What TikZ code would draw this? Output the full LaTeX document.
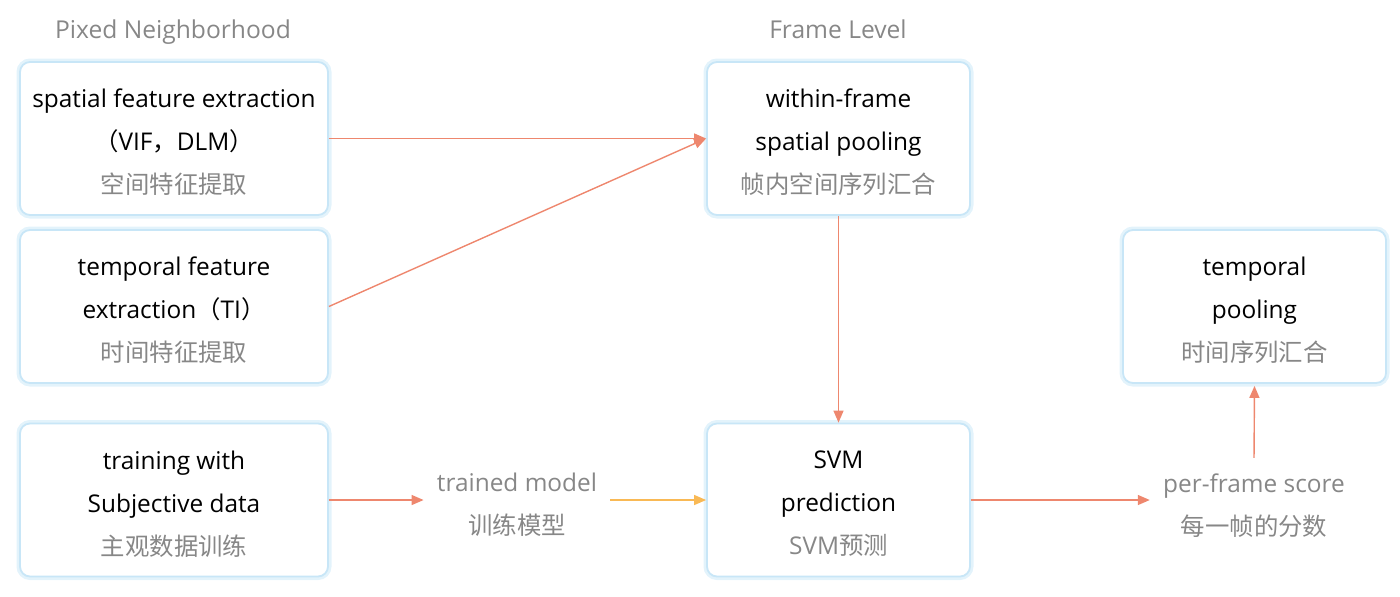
\documentclass[tikz,border=0pt]{standalone}
\usepackage{fontspec}
\setmainfont{Open Sans}
\newfontfamily\cjk{Noto Sans CJK SC}
\usetikzlibrary{arrows.meta}
\definecolor{arr}{RGB}{238,135,110}
\definecolor{arry}{RGB}{249,185,85}
\definecolor{gtxt}{RGB}{135,135,135}
\definecolor{bord}{RGB}{200,230,247}
\definecolor{glow}{RGB}{215,238,250}
\begin{document}
\begin{tikzpicture}[x=0.5pt,y=-0.5pt,
  box/.style={rectangle, rounded corners=5pt, fill=white, draw=bord, line width=0.9pt,
    preaction={draw=glow, line width=3.5pt, opacity=0.7},
    inner sep=0pt},
  wide/.style={minimum width=154pt, minimum height=76.5pt},
  narrow/.style={minimum width=131.5pt, minimum height=76.5pt},
  txt/.style={align=center, text=black, font=\fontsize{12.2}{21.5}\selectfont},
  lbl/.style={align=center, text=gtxt, font=\fontsize{12.2}{21.5}\selectfont, inner xsep=6.5pt, inner ysep=2pt},
  hdr/.style={text=gtxt, font=\fontsize{12.3}{14}\selectfont, anchor=base},
  conn/.style={draw=arr, line width=0.7pt, -{Triangle[length=6pt,width=5pt]}},
  conny/.style={draw=arry, line width=0.7pt, -{Triangle[length=6pt,width=5pt]}}
]
\useasboundingbox (0,0) rectangle (1400,596);
\node[hdr] (h1) at (173,38) {Pixed Neighborhood};
\node[hdr] (h2) at (838,38) {Frame Level};

\node[box,wide] (A) at (174,138.5) {};
\node[txt] (At) at (174,142) {spatial feature extraction\\{\cjk （}VIF{\cjk ，}DLM{\cjk ）}\\{\cjk\color{gtxt}空间特征提取}};
\node[box,wide] (B) at (174,306.5) {};
\node[txt] (Bt) at (174,310) {temporal feature\\extraction{\cjk （}TI{\cjk ）}\\{\cjk\color{gtxt}时间特征提取}};
\node[box,wide] (C) at (174,500) {};
\node[txt] (Ct) at (174,504) {training with\\Subjective data\\{\cjk\color{gtxt}主观数据训练}};

\node[box,narrow] (D) at (838.5,138.5) {};
\node[txt] (Dt) at (838.5,142) {within-frame\\spatial pooling\\{\cjk\color{gtxt}帧内空间序列汇合}};
\node[box,narrow] (E) at (838.5,500) {};
\node[txt] (Et) at (838.5,504) {SVM\\prediction\\{\color{gtxt}SVM{\cjk 预测}}};
\node[box,narrow] (F) at (1254.5,306.5) {};
\node[txt] (Ft) at (1254.5,310) {temporal\\pooling\\{\cjk\color{gtxt}时间序列汇合}};

\node[lbl] (tm) at (517,505) {trained model\\{\cjk 训练模型}};
\node[lbl] (pf) at (1254,506) {per-frame score\\{\cjk 每一帧的分数}};

\draw[conn] (A.east) -- (D.west);
\draw[conn] (B.east) -- (D.west);
\draw[conn] (D.south) -- (E.north);
\draw[conn] (C.east) -- (C.east -| tm.west);
\draw[conny] (tm.east |- E.west) -- (E.west);
\draw[conn] (E.east) -- (E.east -| pf.west);
\draw[conn] ([yshift=6pt]pf.north) -- ([yshift=-1pt]F.south);
\end{tikzpicture}
\end{document}
